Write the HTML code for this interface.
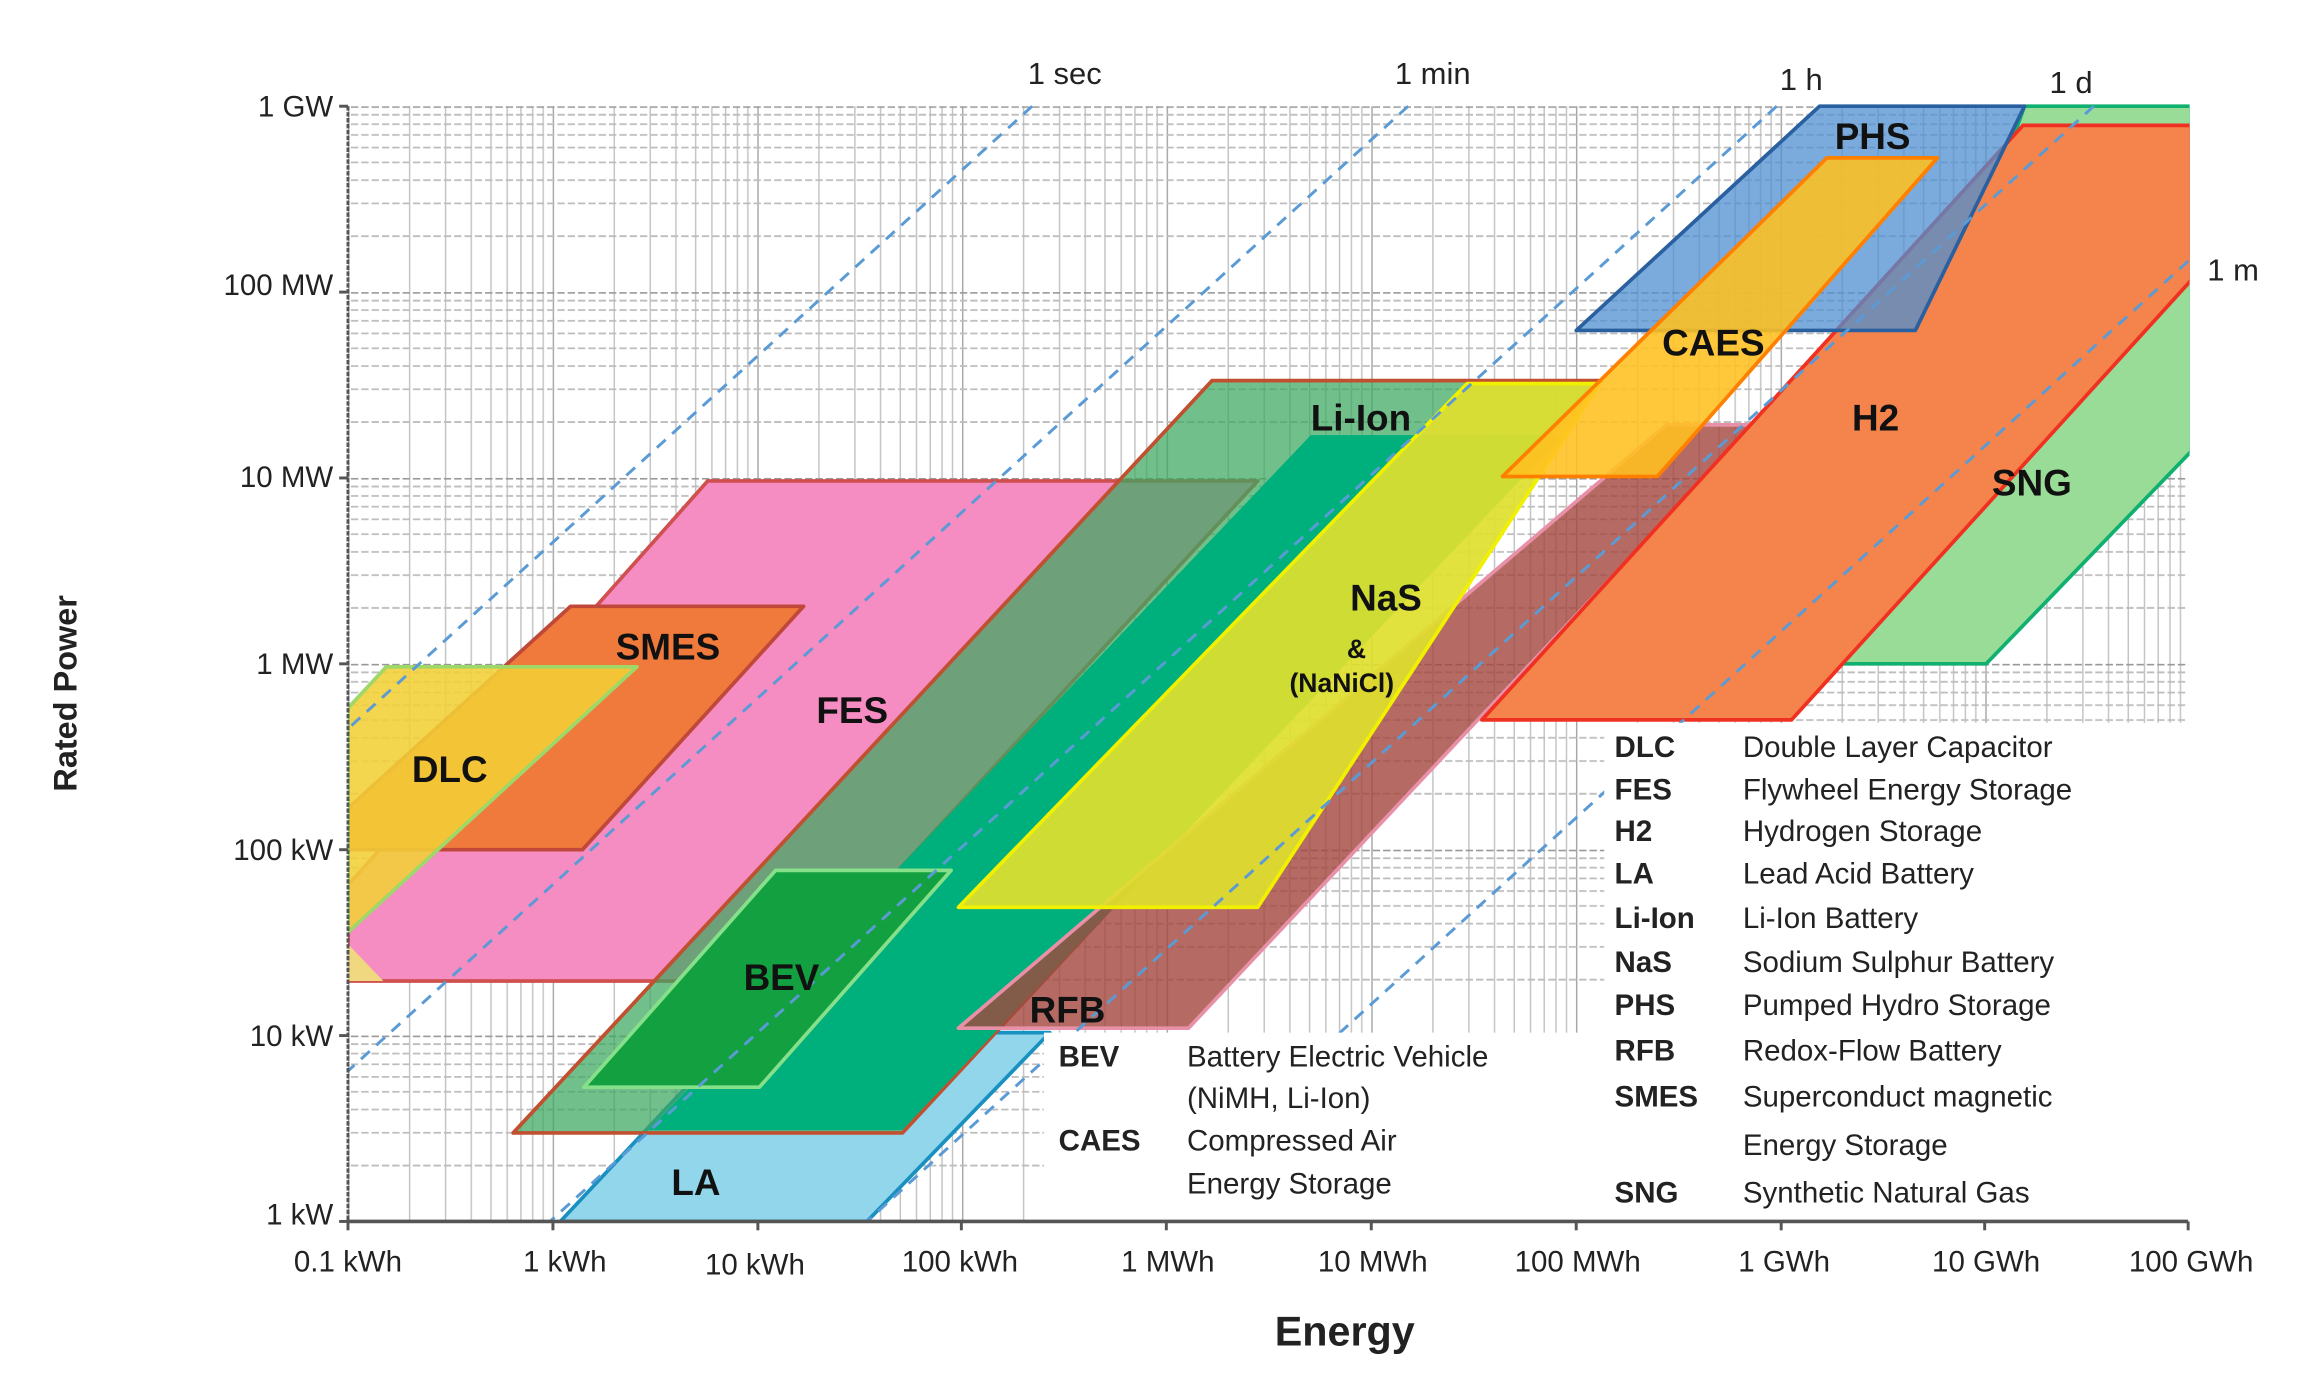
<!DOCTYPE html>
<html><head><meta charset="utf-8"><style>
html,body{margin:0;padding:0;background:#fff;}
svg{display:block;}
text{font-family:"Liberation Sans",sans-serif;}
</style></head><body>
<svg width="2312" height="1397" viewBox="0 0 1568 947" preserveAspectRatio="none" xmlns="http://www.w3.org/2000/svg">
<defs>
<pattern id="vg" x="236" y="0" width="138.8" height="947" patternUnits="userSpaceOnUse">
<g stroke="#c4c4c4" stroke-width="1">
<line x1="0.5" y1="0" x2="0.5" y2="947" stroke="#a8a8a8"/>
<line x1="41.8" y1="0" x2="41.8" y2="947"/><line x1="66.2" y1="0" x2="66.2" y2="947"/>
<line x1="83.6" y1="0" x2="83.6" y2="947"/><line x1="97" y1="0" x2="97" y2="947"/>
<line x1="108" y1="0" x2="108" y2="947"/><line x1="117.3" y1="0" x2="117.3" y2="947"/>
<line x1="125.3" y1="0" x2="125.3" y2="947"/><line x1="132.4" y1="0" x2="132.4" y2="947"/>
</g></pattern>
<pattern id="hg" x="0" y="72" width="1568" height="126" patternUnits="userSpaceOnUse">
<g stroke="#bdbdbd" stroke-width="1.2" stroke-dasharray="5 2">
<line x1="0" y1="0.5" x2="1568" y2="0.5" stroke="#999"/>
<line x1="0" y1="5.8" x2="1568" y2="5.8"/><line x1="0" y1="12.2" x2="1568" y2="12.2"/>
<line x1="0" y1="19.5" x2="1568" y2="19.5"/><line x1="0" y1="28" x2="1568" y2="28"/>
<line x1="0" y1="38.1" x2="1568" y2="38.1"/><line x1="0" y1="50.1" x2="1568" y2="50.1"/>
<line x1="0" y1="65.9" x2="1568" y2="65.9"/><line x1="0" y1="88.1" x2="1568" y2="88.1"/>
</g></pattern>
<clipPath id="pc"><rect x="236" y="70" width="1249" height="759"/></clipPath>
</defs>

<rect x="236" y="72" width="1248" height="756" fill="url(#vg)"/>
<rect x="236" y="72" width="1248" height="756" fill="url(#hg)"/>

<g clip-path="url(#pc)" stroke-width="2.5" stroke-linejoin="round">
<polygon points="480,326 853,326 540,665 236,665 236,600" fill="#f58cc2" stroke="#d05050"/>
<polygon points="387,411 545,411 395,576 236,576 236,548" fill="#f07a3c" stroke="#c04838"/>
<polygon points="236,480 262,452 432,452 236,632" fill="#f3cf35" fill-opacity="0.88" stroke="#9ed868"/>
<polygon points="236,632 236,665 260,665 236,640" fill="#f0d880"/>
<polygon points="380,828 588,828 712,700 500,700" fill="#92d6ec" stroke="#1890c0"/>
<polygon points="822,258 1086,258 612,768 348,768" fill="#3aa85e" fill-opacity="0.72" stroke="#c05030"/>
<polygon points="889,295 1060,295 612,766 440,766" fill="#00b07c" stroke="none"/>
<polygon points="526,590 645,590 515,737 396,737" fill="#12a040" stroke="#86e08a"/>
<polygon points="1130,288 1190,288 806,697 650,697" fill="#a2463c" fill-opacity="0.8" stroke="#e890a8"/>
<polygon points="995,260 1085,260 853,615 650,615" fill="#e0e02e" fill-opacity="0.92" stroke="#f0f000"/>
<polygon points="1373,72 1486,72 1486,306 1347,450 1239,450" fill="#98dc98" stroke="#10b070"/>
<polygon points="1372,85 1486,85 1486,190 1215,488 1005,488" fill="#f4844c" stroke="#f03020"/>
<polygon points="1234,72 1373,72 1299,224 1069,224" fill="#4d8fd0" fill-opacity="0.75" stroke="#2a60a0"/>
<polygon points="1239,107 1314,107 1124,323 1019,323" fill="#ffc020" fill-opacity="0.88" stroke="#ff8000"/>
<g stroke="#5b9bd5" stroke-width="2" stroke-dasharray="8 6" fill="none">
<line x1="700" y1="72" x2="236" y2="494"/>
<line x1="955" y1="72" x2="236" y2="726"/>
<line x1="1205" y1="72" x2="373" y2="828"/>
<line x1="1420" y1="72" x2="588" y2="828"/>
<line x1="1484" y1="177" x2="768" y2="828"/>
</g>
</g>

<rect x="1088" y="490" width="396" height="338" fill="#fff"/>
<rect x="708" y="700" width="382" height="128" fill="#fff"/>

<line x1="236" y1="72" x2="236" y2="828" stroke="#555" stroke-width="2" stroke-dasharray="3 1"/>
<line x1="236" y1="828" x2="1484" y2="828" stroke="#555" stroke-width="2.5"/>
<g stroke="#555" stroke-width="2">
<line x1="236" y1="828" x2="236" y2="834"/><line x1="375" y1="828" x2="375" y2="834"/>
<line x1="514" y1="828" x2="514" y2="834"/><line x1="652" y1="828" x2="652" y2="834"/>
<line x1="791" y1="828" x2="791" y2="834"/><line x1="930" y1="828" x2="930" y2="834"/>
<line x1="1069" y1="828" x2="1069" y2="834"/><line x1="1208" y1="828" x2="1208" y2="834"/>
<line x1="1346" y1="828" x2="1346" y2="834"/><line x1="1484" y1="828" x2="1484" y2="834"/>
<line x1="230" y1="72" x2="236" y2="72"/><line x1="230" y1="198" x2="236" y2="198"/>
<line x1="230" y1="324" x2="236" y2="324"/><line x1="230" y1="450" x2="236" y2="450"/>
<line x1="230" y1="576" x2="236" y2="576"/><line x1="230" y1="702" x2="236" y2="702"/>
<line x1="230" y1="828" x2="236" y2="828"/>
</g>

<g font-size="20" fill="#222" text-anchor="end">
<text x="226" y="79">1 GW</text>
<text x="226" y="200">100 MW</text>
<text x="226" y="330">10 MW</text>
<text x="226" y="457">1 MW</text>
<text x="226" y="583">100 kW</text>
<text x="226" y="709">10 kW</text>
<text x="226" y="830">1 kW</text>
</g>
<g font-size="20" fill="#222" text-anchor="middle">
<text x="236" y="862">0.1 kWh</text>
<text x="383" y="862">1 kWh</text>
<text x="512" y="864">10 kWh</text>
<text x="651" y="862">100 kWh</text>
<text x="792" y="862">1 MWh</text>
<text x="931" y="862">10 MWh</text>
<text x="1070" y="862">100 MWh</text>
<text x="1210" y="862">1 GWh</text>
<text x="1347" y="862">10 GWh</text>
<text x="1486" y="862">100 GWh</text>
</g>
<text x="912" y="912" font-size="28" font-weight="bold" text-anchor="middle" fill="#222">Energy</text>
<text transform="translate(52,470) rotate(-90)" font-size="22" font-weight="bold" text-anchor="middle" fill="#222">Rated Power</text>

<g font-size="21" fill="#222">
<text x="697" y="57">1 sec</text>
<text x="946" y="57">1 min</text>
<text x="1207" y="61">1 h</text>
<text x="1390" y="63">1 d</text>
<text x="1497" y="190">1 m</text>
</g>

<g font-size="25" font-weight="bold" fill="#111" text-anchor="middle">
<text x="1270" y="101">PHS</text>
<text x="1162" y="241">CAES</text>
<text x="1272" y="292">H2</text>
<text x="1378" y="336">SNG</text>
<text x="923" y="292">Li-Ion</text>
<text x="940" y="414">NaS</text>
<text x="920" y="446" font-size="18">&amp;</text>
<text x="910" y="469" font-size="18">(NaNiCl)</text>
<text x="453" y="447">SMES</text>
<text x="578" y="490">FES</text>
<text x="305" y="530">DLC</text>
<text x="530" y="671">BEV</text>
<text x="724" y="693">RFB</text>
<text x="472" y="810">LA</text>
</g>

<g font-size="20" fill="#222">
<g font-weight="bold">
<text x="1095" y="513">DLC</text><text x="1095" y="542">FES</text><text x="1095" y="570">H2</text>
<text x="1095" y="599">LA</text><text x="1095" y="629">Li-Ion</text><text x="1095" y="659">NaS</text>
<text x="1095" y="688">PHS</text><text x="1095" y="719">RFB</text><text x="1095" y="750">SMES</text>
<text x="1095" y="815">SNG</text>
<text x="718" y="723">BEV</text><text x="718" y="780">CAES</text>
</g>
<text x="1182" y="513">Double Layer Capacitor</text>
<text x="1182" y="542">Flywheel Energy Storage</text>
<text x="1182" y="570">Hydrogen Storage</text>
<text x="1182" y="599">Lead Acid Battery</text>
<text x="1182" y="629">Li-Ion Battery</text>
<text x="1182" y="659">Sodium Sulphur Battery</text>
<text x="1182" y="688">Pumped Hydro Storage</text>
<text x="1182" y="719">Redox-Flow Battery</text>
<text x="1182" y="750">Superconduct magnetic</text>
<text x="1182" y="783">Energy Storage</text>
<text x="1182" y="815">Synthetic Natural Gas</text>
<text x="805" y="723">Battery Electric Vehicle</text>
<text x="805" y="751">(NiMH, Li-Ion)</text>
<text x="805" y="780">Compressed Air</text>
<text x="805" y="809">Energy Storage</text>
</g>
</svg>
</body></html>
